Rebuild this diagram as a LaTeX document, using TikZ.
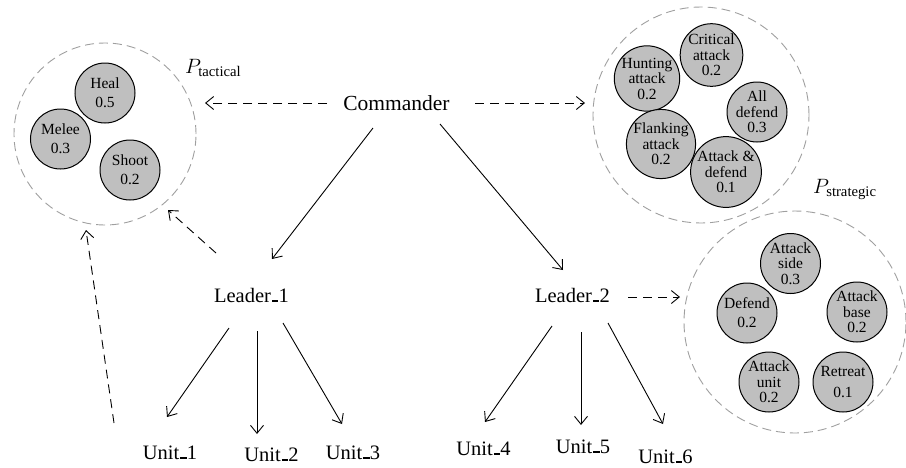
\documentclass[tikz,border=0pt]{standalone}
\usepackage{fontspec}
\setmainfont{Liberation Serif}
\usetikzlibrary{arrows.meta,calc}
% classic short baseline bar used between name and index
\newcommand\idxbar{\leavevmode\kern.06em\vbox{\hrule width.3em height .09em}\kern.02em}
\begin{document}
\begin{tikzpicture}[x=1pt,y=-1pt,
  every node/.style={inner sep=0pt},
  role/.style={font=\fontsize{20.5}{24}\selectfont, anchor=base},
  pool/.style={circle, draw=gray!75, dash pattern=on 9pt off 5pt, line width=0.9pt, minimum size=#1},
  act/.style={circle, draw=black, line width=1pt, fill=gray!50, minimum size=60pt,
    align=center, font=\fontsize{15.5}{15.5}\selectfont},
  acttwo/.style={act, font=\fontsize{15.5}{19}\selectfont},
  plabel/.style={anchor=base west, font=\fontsize{21}{24}\selectfont},
  cmdarrow/.style={-{Straight Barb[length=8pt,width=13pt]}, line width=0.9pt},
  infoarrow/.style={cmdarrow, dash pattern=on 9pt off 6pt},
]
\useasboundingbox (0,0) rectangle (906,467);

% behaviour pools
\node[pool=182pt] (tac) at (105,134) {};
\node[pool=216pt] (str) at (701,115) {};
\node[pool=222pt] (lead) at (795,322) {};

% tactical actions
\node[acttwo] (heal)  at (105,93)    {Heal\\0.5};
\node[acttwo] (melee) at (60.5,139)  {Melee\\0.3};
\node[acttwo] (shoot) at (130,170)   {Shoot\\0.2};

% strategic actions
\node[act] (crit)  at (711.5,55)  {Critical\\attack\\0.2};
\node[act] (hunt)  at (647,78.5)  {Hunting\\attack\\0.2};
\node[act] (alldef) at (757,112)  {All\\defend\\0.3};
\node[act] (flank) at (661,144)   {Flanking\\attack\\0.2};
\node[act] (attdef) at (726,172)  {Attack \&\\defend\\0.1};

% leader actions
\node[act]    (side)   at (790.5,263.5) {Attack\\side\\0.3};
\node[acttwo] (defend) at (747,313)     {Defend\\0.2};
\node[act]    (base)   at (857,312)     {Attack\\base\\0.2};
\node[act]    (unitat) at (769,382)     {Attack\\unit\\0.2};
\node[act]    (retr)   at (843,382)     {Retreat\\[5pt]0.1};

% pool labels
\node[plabel] (ptac) at (185,73)  {$P_{\mathrm{tactical}}$};
\node[plabel] (pstr) at (813,193) {$P_{\mathrm{strategic}}$};

% hierarchy
\node[role, font=\fontsize{21.5}{24}\selectfont] (cmd) at (396.5,110) {Commander};
\node[role] (l1)  at (251.5,302) {Leader\idxbar 1};
\node[role] (l2)  at (572.5,302) {Leader\idxbar 2};
\node[role] (u1)  at (170,459)   {Unit\idxbar 1};
\node[role] (u2)  at (271.5,461) {Unit\idxbar 2};
\node[role] (u3)  at (353,459)   {Unit\idxbar 3};
\node[role] (u4)  at (483.5,455) {Unit\idxbar 4};
\node[role] (u5)  at (583,453)   {Unit\idxbar 5};
\node[role] (u6)  at (665.5,463) {Unit\idxbar 6};

% command links
\draw[cmdarrow] ($(cmd.base)+(-23.5,18)$) -- ($(l1.base)+(20.5,-43)$);
\draw[cmdarrow] ($(cmd.base)+(43.5,14)$)  -- ($(l2.base)+(-9.5,-32)$);
\draw[cmdarrow] ($(l1.base)+(-22.5,26)$)  -- ($(u1.base)+(-3,-42)$);
\draw[cmdarrow] ($(l1.base)+(5.5,29)$)    -- ($(u2.base)+(-14.5,-27)$);
\draw[cmdarrow] ($(l1.base)+(31.5,21)$)   -- ($(u3.base)+(-11,-35)$);
\draw[cmdarrow] ($(l2.base)+(-20.5,24)$)  -- ($(u4.base)+(1.5,-33)$);
\draw[cmdarrow] ($(l2.base)+(8.5,30)$)    -- ($(u5.base)+(-2,-28)$);
\draw[cmdarrow] ($(l2.base)+(35.5,21)$)   -- ($(u6.base)+(-2.5,-39)$);

% pool usage
\draw[infoarrow] ($(cmd.base)+(-69.5,-7)$) -- ($(tac)+(100,-31)$);
\draw[infoarrow] ($(cmd.base)+(78.5,-7)$)  -- ($(str)+(-116,-12)$);
\draw[infoarrow] ($(l1.base)+(-35.5,-49)$) -- ($(tac)+(63,76)$);
\draw[infoarrow] ($(l2.base)+(55.5,-5)$)   -- ($(lead)+(-115,-25)$);
\draw[infoarrow] ($(u1.base)+(-56,-36)$)   -- ($(tac)+(-19,96)$);
\end{tikzpicture}
\end{document}
